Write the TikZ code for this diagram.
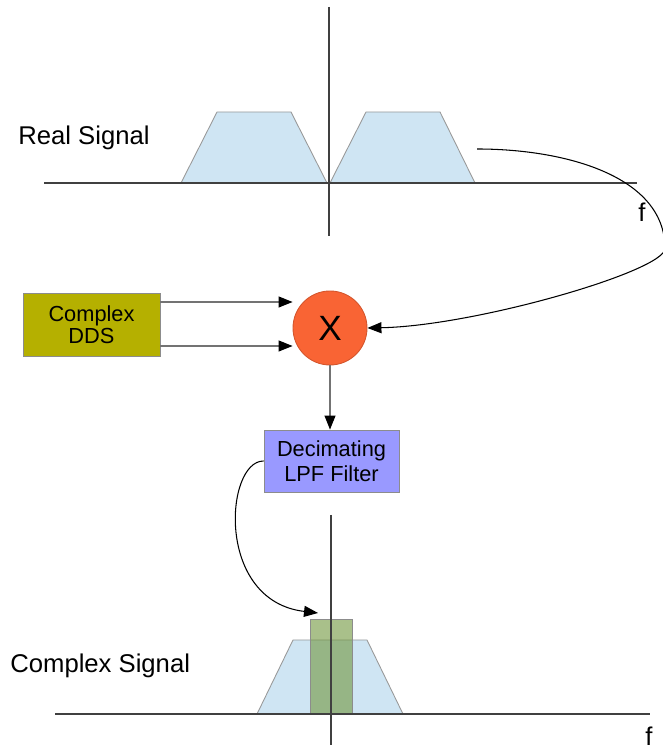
\documentclass[tikz,border=0pt]{standalone}
\usepackage{fontspec}
\setmainfont{Liberation Sans}
\usetikzlibrary{arrows.meta}
\definecolor{bandblue}{HTML}{CFE5F3}
\definecolor{ddsolive}{HTML}{B5B000}
\definecolor{mixorange}{HTML}{F96434}
\definecolor{lpfblue}{HTML}{9999FF}
\definecolor{passgreen}{HTML}{70963C}
\tikzset{
  axis/.style={draw=black!75, line width=0.6pt},
  band/.style={fill=bandblue, draw=black!40, line width=0.5pt},
  block/.style={rectangle, draw=black!45, line width=0.5pt, align=center,
    inner sep=0pt, minimum width=2.74cm, minimum height=1.26cm},
  sigtext/.style={inner sep=0pt, font=\fontsize{14.6}{17}\selectfont},
  tip/.style={-{Triangle[length=0.28cm,width=0.22cm,color=black]}},
  feed/.style={tip, draw=black!55, line width=0.6pt}
}

\begin{document}
\begin{tikzpicture}
\useasboundingbox (0,0) rectangle (13.24,15.02);
\draw[band] (3.62,11.36) -- (4.34,12.78) -- (5.82,12.78) -- (6.54,11.36) -- cycle;
\draw[band] (6.60,11.36) -- (7.32,12.78) -- (8.80,12.78) -- (9.50,11.36) -- cycle;
\draw[axis] (0.88,11.36) -- (12.74,11.36);
\draw[axis] (6.58,14.88) -- (6.58,10.30);
\node[sigtext, anchor=west] (realsig) at (0.36,12.26) {Real Signal};
\node[sigtext] (ftop) at (12.84,10.78) {f};

\node[block, fill=ddsolive, font=\fontsize{12.4}{12.8}\selectfont] (dds) at (1.83,8.53) {Complex\\DDS};
\node[circle, fill=mixorange, draw=mixorange!85!black, line width=0.5pt,
  minimum size=1.48cm, inner sep=0pt, font=\fontsize{20}{24}\selectfont] (mix) at (6.60,8.46) {X};
\node[block, fill=lpfblue, minimum width=2.70cm, minimum height=1.24cm,
  font=\fontsize{12.4}{14}\selectfont] (lpf) at (6.63,5.80) {Decimating\\LPF Filter};

\coordinate (ddsup) at ([yshift=0.45cm]dds.east);
\coordinate (ddsdn) at ([yshift=-0.43cm]dds.east);
\draw[feed] (ddsup) -- (ddsup -| mix.west);
\draw[feed] (ddsdn) -- (ddsdn -| mix.west);
\draw[feed] (mix.south) -- (mix.south |- lpf.north);

\coordinate (rsout) at (9.54,12.04);
\coordinate (rsedge) at (13.30,10.05);
\draw[tip, line width=0.6pt] (rsout) .. controls (11.3,12.04) and (13.30,11.5) .. (rsedge)
  .. controls (13.30,9.6) and (9.5,8.5) .. (mix.east);

\coordinate (csin) at (6.36,2.76);
\draw[tip, line width=0.6pt] (lpf.west) .. controls (4.5,5.8) and (4.3,3.0) .. (csin);

\draw[band] (5.14,0.74) -- (5.86,2.22) -- (7.34,2.22) -- (8.06,0.74) -- cycle;
\draw[fill=passgreen, fill opacity=0.6, draw=black!45, line width=0.5pt] (6.20,0.74) rectangle (7.04,2.64);
\draw[axis] (1.10,0.74) -- (13.0,0.74);
\draw[axis] (6.62,4.72) -- (6.62,0.12);
\node[sigtext, anchor=west] (cplxsig) at (0.20,1.70) {Complex Signal};
\node[sigtext] (fbot) at (12.98,0.30) {f};
\end{tikzpicture}
\end{document}
